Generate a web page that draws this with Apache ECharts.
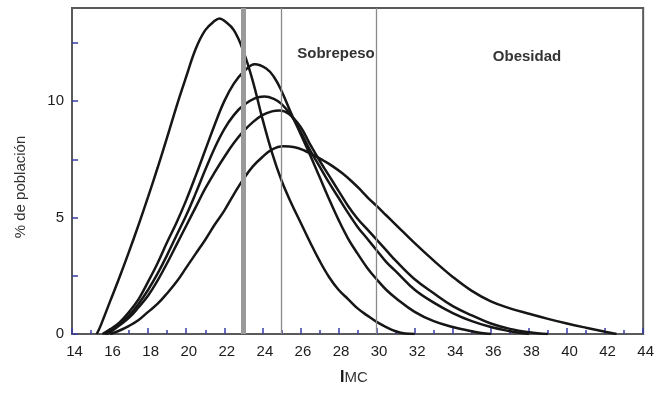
<!DOCTYPE html>
<html>
<head>
<meta charset="utf-8">
<script src="https://cdn.jsdelivr.net/npm/echarts@6/dist/echarts.min.js"></script>
<style>
  html, body { margin: 0; padding: 0; background: #fff; }
  #chart { width: 657px; height: 393px; }
</style>
</head>
<body>
<div id="chart"></div>
<script>
// BMI distributions (% of population per IMC unit)
const curveA = [[15.3,0],[15.5,0.35],[16,1.4],[16.5,2.45],[17,3.55],[17.5,4.7],[18,5.9],[18.5,7.15],[19,8.45],[19.5,9.8],[20,11.05],[20.5,12.25],[21,13.05],[21.5,13.45],[21.75,13.55],[22,13.45],[22.5,13.05],[23,12.15],[23.5,10.85],[24,9.25],[24.5,7.8],[25,6.6],[25.5,5.65],[26,4.8],[26.5,3.95],[27,3.15],[27.5,2.45],[28,1.9],[28.5,1.5],[29,1.1],[29.5,0.8],[30,0.52],[30.5,0.3],[31,0.12],[31.5,0.02],[32,0]];
const curveB = [[15.6,0],[16,0.2],[16.5,0.5],[17,0.95],[17.5,1.5],[18,2.25],[18.5,3.05],[19,3.95],[19.5,4.8],[20,5.75],[20.5,6.8],[21,7.9],[21.5,9.0],[22,10.0],[22.5,10.75],[23,11.25],[23.6,11.58],[24.2,11.4],[24.6,11.05],[25,10.45],[25.5,9.5],[26,8.6],[26.5,7.7],[27,6.75],[27.5,5.8],[28,4.9],[28.5,4.1],[29,3.45],[29.5,2.85],[30,2.35],[30.5,1.9],[31,1.55],[32,0.95],[33,0.55],[34,0.3],[35,0.12],[35.5,0.04],[36,0]];
const curveC = [[15.7,0],[16,0.12],[16.5,0.45],[17,0.8],[17.5,1.3],[18,1.9],[18.5,2.6],[19,3.4],[19.5,4.25],[20,5.1],[20.5,6.05],[21,7.05],[21.5,8.0],[22,8.8],[22.5,9.4],[23,9.82],[23.6,10.12],[24.1,10.2],[24.6,10.1],[25,9.88],[25.5,9.4],[26,8.7],[26.5,7.9],[27,7.2],[27.5,6.5],[28,5.85],[28.5,5.2],[29,4.6],[29.5,4.1],[30,3.6],[30.5,3.1],[31,2.7],[32,1.9],[33,1.35],[34,0.9],[35,0.55],[36,0.3],[37,0.12],[37.5,0.05],[38,0]];
const curveD = [[15.8,0],[16,0.08],[16.5,0.38],[17,0.7],[17.5,1.15],[18,1.65],[18.5,2.3],[19,3.05],[19.5,3.85],[20,4.65],[20.5,5.45],[21,6.25],[21.5,6.95],[22,7.6],[22.5,8.2],[23,8.7],[23.5,9.1],[24,9.4],[24.5,9.56],[24.9,9.6],[25.4,9.45],[26,8.9],[26.5,8.15],[27,7.45],[27.5,6.8],[28,6.15],[28.5,5.5],[29,4.95],[29.5,4.5],[30,4.05],[30.5,3.6],[31,3.15],[32,2.35],[33,1.75],[34,1.2],[35,0.8],[36,0.45],[37,0.22],[38,0.08],[39,0]];
const curveE = [[16,0],[16.5,0.15],[17,0.35],[17.5,0.6],[18,0.95],[18.5,1.3],[19,1.75],[19.5,2.25],[20,2.85],[20.5,3.45],[21,4.05],[21.5,4.7],[22,5.3],[22.5,6.0],[23,6.65],[23.5,7.2],[24,7.6],[24.5,7.92],[25.1,8.06],[25.7,8.02],[26.2,7.88],[26.7,7.68],[27.2,7.45],[27.7,7.2],[28.2,6.9],[28.7,6.55],[29.2,6.15],[29.6,5.8],[30,5.5],[30.5,5.1],[31,4.7],[32,3.9],[33,3.15],[34,2.45],[35,1.85],[36,1.4],[37,1.1],[38,0.87],[39,0.65],[40,0.45],[41,0.27],[42,0.1],[42.6,0]];

// cut-off lines (IMC)
const cutNormal = 23;
const cutOverweight = 25;
const cutObese = 30;

// axes
const xMin = 14, xMax = 44, xStep = 2;
const yMin = 0, yMax = 14;
const yTickLabels = [0, 5, 10];
const yTicks = [0, 2.5, 5, 7.5, 10, 12.5];

const tickBlue = '#3b3ba6';
const textFont = 'Liberation Sans, Arial, sans-serif';

const chart = echarts.init(document.getElementById('chart'), null, { renderer: 'canvas' });

const curveSeries = [curveA, curveB, curveC, curveD, curveE].map((d, i) => ({
    name: 'c' + i,
    type: 'line',
    data: d,
    smooth: 0.4,
    showSymbol: false,
    silent: true,
    z: 3,
    lineStyle: { color: '#161616', width: 2.5 }
}));

const option = {
    animation: false,
    backgroundColor: '#fff',
    grid: {
        left: 72,
        right: 6,
        top: 8,
        bottom: 59,
        show: true,
        borderColor: '#5a5a5a',
        borderWidth: 2
    },
    xAxis: {
        type: 'value',
        min: xMin,
        max: xMax,
        interval: xStep,
        axisLine: { show: true, lineStyle: { color: '#5a5a5a', width: 2 } },
        axisTick: { show: true, inside: true, length: 6, lineStyle: { color: tickBlue, width: 1.5 } },
        minorTick: { show: true, splitNumber: 2, length: 4, lineStyle: { color: tickBlue, width: 1.5 } },
        splitLine: { show: false },
        axisLabel: { color: '#1c1c1c', fontSize: 15, fontFamily: textFont, margin: 10, padding: [0, 0, 0, 5] }
    },
    yAxis: {
        type: 'value',
        min: yMin,
        max: yMax,
        axisLine: { show: true, lineStyle: { color: '#5a5a5a', width: 2 } },
        axisTick: { show: true, inside: true, length: 6, customValues: yTicks, lineStyle: { color: tickBlue, width: 1.5 } },
        splitLine: { show: false },
        axisLabel: {
            color: '#1c1c1c', fontSize: 15, fontFamily: textFont, margin: 8,
            customValues: yTickLabels,
            formatter: v => (yTickLabels.indexOf(v) >= 0 ? String(v) : '')
        }
    },
    series: [
        {
            type: 'line',
            data: [],
            silent: true,
            z: 1,
            markLine: {
                silent: true,
                symbol: 'none',
                label: { show: false },
                data: [
                    { xAxis: cutNormal, lineStyle: { color: '#9a9a9a', width: 5, type: 'solid' } },
                    { xAxis: cutOverweight, lineStyle: { color: '#8a8a8a', width: 1.3, type: 'solid' } },
                    { xAxis: cutObese, lineStyle: { color: '#8a8a8a', width: 1.3, type: 'solid' } }
                ]
            }
        },
        ...curveSeries
    ],
    graphic: [
        {
            type: 'text', x: 336, y: 54,
            style: { text: 'Sobrepeso', fill: '#333', font: 'bold 15px ' + textFont, textAlign: 'center', textVerticalAlign: 'middle' }
        },
        {
            type: 'text', x: 527, y: 57,
            style: { text: 'Obesidad', fill: '#333', font: 'bold 15px ' + textFont, textAlign: 'center', textVerticalAlign: 'middle' }
        },
        {
            type: 'text', x: 354, y: 378,
            style: {
                text: '{b|I}MC', fill: '#333', font: '15px ' + textFont,
                textAlign: 'center', textVerticalAlign: 'middle',
                rich: { b: { fontWeight: 'bold', fontSize: 16, fill: '#111', fontFamily: textFont } }
            }
        },
        {
            type: 'text', x: 21, y: 187, rotation: Math.PI / 2,
            style: { text: '% de población', fill: '#333', font: '15px ' + textFont, textAlign: 'center', textVerticalAlign: 'middle' }
        }
    ]
};

chart.setOption(option);
</script>
</body>
</html>
